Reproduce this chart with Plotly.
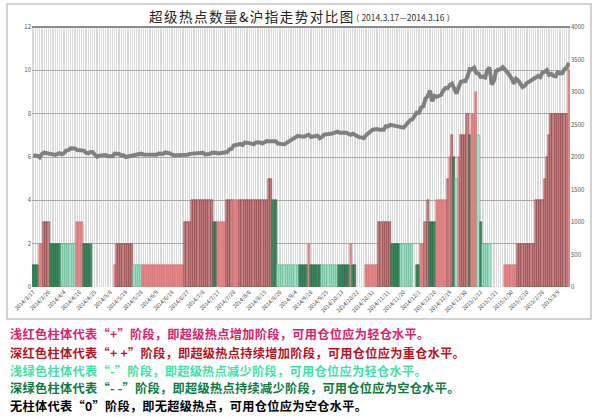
import plotly.graph_objects as go

# ---- trading-day labels (every 7th trading day) ----
tick_labels = ["2014/3/17", "2014/3/26", "2014/4/4", "2014/4/16", "2014/4/25", "2014/5/8",
               "2014/5/19", "2014/5/28", "2014/6/9", "2014/6/18", "2014/6/27", "2014/7/8",
               "2014/7/17", "2014/7/28", "2014/8/6", "2014/8/15", "2014/8/26", "2014/9/4",
               "2014/9/16", "2014/9/25", "2014/10/13", "2014/10/22", "2014/10/31", "2014/11/11",
               "2014/11/20", "2014/12/1", "2014/12/10", "2014/12/19", "2014/12/30", "2015/1/12",
               "2015/1/21", "2015/1/30", "2015/2/10", "2015/2/26", "2015/3/9"]

# ---- hot-spot counts (left axis), one row per 7 trading days ----
hot_counts = [
    1, 1, 1, 2, 2, 3, 3,
    3, 2, 2, 2, 2, 2, 2,
    2, 2, 2, 2, 2, 2, 3,
    3, 3, 2, 2, 2, 2, 0,
    0, 0, 0, 0, 0, 0, 0,
    0, 0, 1, 2, 2, 2, 2,
    2, 2, 2, 2, 1, 1, 1,
    1, 1, 1, 1, 1, 1, 1,
    1, 1, 1, 1, 1, 1, 1,
    1, 1, 1, 1, 1, 1, 3,
    3, 3, 4, 4, 4, 4, 4,
    4, 4, 4, 4, 4, 3, 3,
    3, 3, 3, 3, 4, 4, 4,
    4, 4, 4, 4, 4, 4, 4,
    4, 4, 4, 4, 4, 4, 4,
    4, 4, 5, 5, 4, 4, 1,
    1, 1, 1, 1, 1, 1, 1,
    1, 1, 1, 1, 1, 1, 2,
    1, 1, 1, 1, 1, 1, 1,
    1, 1, 1, 1, 1, 1, 1,
    1, 1, 1, 1, 2, 1, 1,
    0, 0, 0, 0, 1, 1, 1,
    1, 1, 1, 3, 3, 3, 3,
    3, 3, 2, 2, 2, 2, 2,
    2, 2, 2, 2, 2, 0, 1,
    1, 2, 2, 3, 4, 3, 3,
    3, 4, 4, 4, 4, 4, 5,
    6, 7, 6, 5, 6, 7, 7,
    7, 8, 7, 8, 8, 9, 7,
    3, 2, 2, 2, 2, 0, 0,
    0, 0, 0, 0, 1, 1, 1,
    1, 1, 1, 2, 2, 2, 2,
    2, 2, 2, 2, 4, 4, 4,
    4, 5, 6, 7, 8, 8, 8,
    8, 8, 8, 8, 8, 10,
]

# ---- phase of each day: "+", "++", "-", "--", "0" ----
phases = [
    "--", "--", "--", "+", "+", "++", "++",
    "++", "--", "--", "--", "--", "--", "-",
    "-", "-", "-", "-", "-", "-", "+",
    "+", "+", "--", "--", "--", "--", "0",
    "0", "0", "0", "0", "0", "0", "0",
    "0", "0", "+", "++", "++", "++", "++",
    "++", "++", "++", "++", "-", "-", "-",
    "-", "+", "+", "+", "+", "+", "+",
    "+", "+", "+", "+", "+", "+", "+",
    "+", "+", "+", "+", "+", "+", "++",
    "++", "++", "++", "++", "++", "++", "++",
    "++", "++", "++", "++", "++", "--", "--",
    "+", "+", "+", "+", "++", "++", "++",
    "+", "+", "+", "++", "++", "++", "++",
    "++", "++", "++", "++", "++", "++", "++",
    "++", "++", "++", "++", "--", "--", "-",
    "-", "-", "-", "-", "-", "-", "-",
    "-", "-", "--", "--", "--", "--", "+",
    "--", "--", "--", "--", "--", "-", "-",
    "-", "-", "-", "-", "-", "-", "--",
    "--", "--", "--", "--", "+", "--", "--",
    "0", "0", "0", "0", "+", "+", "+",
    "+", "+", "+", "++", "++", "++", "++",
    "++", "++", "--", "--", "--", "--", "-",
    "-", "-", "-", "-", "-", "0", "--",
    "--", "+", "+", "++", "++", "--", "--",
    "--", "+", "+", "+", "+", "+", "++",
    "+", "++", "--", "-", "+", "++", "++",
    "++", "++", "--", "+", "+", "+", "-",
    "--", "-", "-", "-", "-", "0", "0",
    "0", "0", "0", "0", "+", "+", "+",
    "+", "+", "+", "++", "++", "++", "++",
    "++", "++", "++", "++", "++", "++", "++",
    "++", "++", "++", "++", "++", "++", "++",
    "++", "++", "++", "++", "++", "+",
]

# ---- Shanghai Composite close (right axis) ----
sh_index = [
    2024, 2025, 2021, 1994, 2047, 2066, 2063,
    2061, 2046, 2041, 2033, 2048, 2059, 2043,
    2058, 2098, 2105, 2134, 2130, 2132, 2106,
    2105, 2099, 2098, 2066, 2055, 2075, 2074,
    2036, 2004, 2021, 2026, 2028, 2029, 2010,
    2015, 2011, 2052, 2051, 2047, 2025, 2026,
    1999, 2005, 2024, 2022, 2035, 2041, 2034,
    2051, 2040, 2039, 2032, 2024, 2035, 2030,
    2033, 2052, 2055, 2050, 2070, 2067, 2055,
    2039, 2024, 2026, 2025, 2035, 2025, 2037,
    2036, 2048, 2050, 2060, 2063, 2060, 2060,
    2066, 2039, 2039, 2046, 2066, 2068, 2064,
    2055, 2060, 2059, 2075, 2076, 2115, 2126,
    2178, 2183, 2182, 2201, 2185, 2223, 2221,
    2219, 2206, 2195, 2224, 2222, 2224, 2207,
    2226, 2245, 2244, 2240, 2233, 2241, 2207,
    2195, 2198, 2195, 2217, 2235, 2266, 2288,
    2306, 2326, 2319, 2307, 2311, 2331, 2343,
    2307, 2316, 2316, 2329, 2290, 2308, 2344,
    2345, 2347, 2358, 2364, 2383, 2389, 2374,
    2366, 2372, 2374, 2356, 2342, 2357, 2339,
    2327, 2303, 2302, 2290, 2337, 2373, 2392,
    2420, 2430, 2430, 2419, 2420, 2418, 2474,
    2470, 2494, 2485, 2478, 2474, 2456, 2451,
    2452, 2487, 2532, 2568, 2580, 2630, 2683,
    2680, 2763, 2779, 2900, 2938, 3020, 2856,
    2940, 2925, 2938, 2953, 3021, 3061, 3058,
    3108, 3128, 3032, 2977, 3073, 3157, 3168,
    3166, 3235, 3351, 3348, 3374, 3294, 3285,
    3229, 3236, 3223, 3336, 3376, 3116, 3173,
    3323, 3343, 3352, 3383, 3353, 3306, 3262,
    3210, 3128, 3204, 3174, 3136, 3076, 3095,
    3141, 3158, 3173, 3204, 3223, 3247, 3228,
    3298, 3310, 3336, 3263, 3280, 3248, 3241,
    3302, 3286, 3291, 3349, 3373, 3449,
]

title_text = "超级热点数量&沪指走势对比图"
range_text = "（ 2014.3.17—2014.3.16 ）"
notes = [
    ("浅红色柱体代表“+”阶段，即超级热点增加阶段，可用仓位应为轻仓水平。", "#e3206c"),
    ("深红色柱体代表“+ +”阶段，即超级热点持续增加阶段，可用仓位应为重仓水平。", "#c0101e"),
    ("浅绿色柱体代表“-”阶段，即超级热点减少阶段，可用仓位应为轻仓水平。", "#3fe3a6"),
    ("深绿色柱体代表“- -”阶段，即超级热点持续减少阶段，可用仓位应为空仓水平。", "#0c7a42"),
    ("无柱体代表“0”阶段，即无超级热点，可用仓位应为空仓水平。", "#000000"),
]

# ---- styling ----
FILL = {"+": "#e58887", "++": "#c98686", "-": "#a2e2c9", "--": "#3f8a60", "0": "rgba(0,0,0,0)"}
EDGE = {"+": "#cc6a6a", "++": "#7a2a2c", "-": "#5aa884", "--": "#1a5a38", "0": "rgba(0,0,0,0)"}

n = len(hot_counts)
xs = list(range(n))

L, R, T, B = 32, 570, 27, 287
W_, H_ = R - L, B - T


def fx(px):
    return (px - L) / W_


def fy(py):
    return (B - py) / H_


FONT = "Noto Sans CJK SC"

fig = go.Figure()
fig.add_trace(go.Bar(
    x=xs, y=hot_counts, width=1.0,
    marker=dict(color=[FILL[p] for p in phases],
                line=dict(color=[EDGE[p] for p in phases], width=0.5)),
    yaxis="y", showlegend=False, hoverinfo="skip",
))
fig.add_trace(go.Scatter(
    x=xs, y=sh_index, mode="lines", yaxis="y2",
    line=dict(color="#808080", width=4), showlegend=False, hoverinfo="skip",
))

fig.update_layout(
    width=600, height=417,
    margin=dict(l=L, r=600 - R, t=T, b=417 - B, autoexpand=False),
    paper_bgcolor="white", plot_bgcolor="#dadada",
    bargap=0, font=dict(family=FONT, color="#444"),
    xaxis=dict(
        range=[-0.5, n - 0.5], tickmode="array", automargin=False,
        tickvals=xs[::7], ticktext=tick_labels, tickangle=-45,
        tickfont=dict(size=5.5, color="#444"), showgrid=False, zeroline=False,
        ticks="", showline=False,
        minor=dict(tickmode="linear", tick0=-0.5, dtick=1, showgrid=True,
                   gridcolor="#ffffff", gridwidth=1, ticks=""),
    ),
    yaxis=dict(
        range=[0, 12], dtick=2, tickfont=dict(size=6, color="#555"), automargin=False,
        showgrid=True, gridcolor="#a8a8a8", gridwidth=1, zeroline=False,
        ticks="", showline=False,
    ),
    yaxis2=dict(
        range=[0, 4000], dtick=500, overlaying="y", side="right", automargin=False,
        tickfont=dict(size=6, color="#555"), showgrid=False, zeroline=False,
        ticks="", showline=False,
    ),
)

# outer frame and top border of plot
fig.add_shape(type="rect", xref="paper", yref="paper",
              x0=fx(7), x1=fx(591), y0=fy(319), y1=fy(4),
              line=dict(color="#c4c4c4", width=1.5), layer="below")
fig.add_shape(type="line", xref="paper", yref="paper",
              x0=0, x1=1, y0=1, y1=1, line=dict(color="#8c8c8c", width=2))

# title
fig.add_annotation(text='<span style="letter-spacing:1.5px">' + title_text + "</span>",
                   xref="paper", yref="paper",
                   x=fx(148), y=fy(16), xanchor="left", yanchor="middle",
                   showarrow=False, borderpad=0,
                   font=dict(size=13.5, color="#222", family=FONT))
fig.add_annotation(text=range_text, xref="paper", yref="paper",
                   x=fx(350), y=fy(17), xanchor="left", yanchor="middle",
                   showarrow=False, borderpad=0,
                   font=dict(size=8.5, color="#333", family=FONT))

# notes
note_y = [334, 352.5, 370.5, 388, 405.5]
for (txt, col), py in zip(notes, note_y):
    fig.add_annotation(text='<span style="letter-spacing:0.3px"><b>' + txt + "</b></span>",
                       xref="paper", yref="paper",
                       x=fx(9), y=fy(py), xanchor="left", yanchor="middle",
                       showarrow=False, borderpad=0,
                       font=dict(size=12.2, color=col, family=FONT))

fig.write_html("out.html", config={"displayModeBar": False},
               post_script="document.body.style.margin='0';document.body.style.padding='0';")
